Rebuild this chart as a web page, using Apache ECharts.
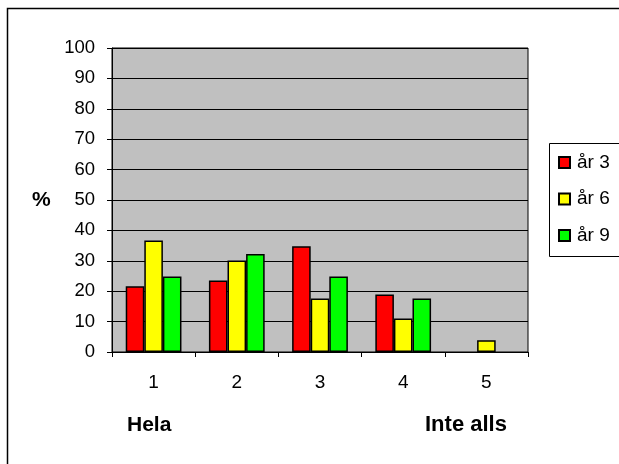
<!DOCTYPE html>
<html lang="sv">
<head>
  <meta charset="utf-8">
  <title>Diagram</title>
  <script src="https://cdn.jsdelivr.net/npm/echarts@6/dist/echarts.min.js"></script>
  <style>
    html, body { margin: 0; padding: 0; background: #fff; }
    #chart { width: 619px; height: 464px; }
  </style>
</head>
<body>
<div id="chart"></div>

<script>
// data
var kategorier = ['1', '2', '3', '4', '5'];
var ar3 = [21.6, 23.5, 34.8, 18.9, null];
var ar6 = [36.7, 30.1, 17.6, 11.0, 3.9];
var ar9 = [24.8, 32.2, 24.8, 17.6, null];
var serieNamn = ['år 3', 'år 6', 'år 9'];
var farger = ['#FF0000', '#FFFF00', '#00FF00'];

var font = 'Arial, "Liberation Sans", sans-serif';
var chart = echarts.init(document.getElementById('chart'));

function serie(namn, data, farg) {
  return {
    name: namn,
    type: 'bar',
    data: data,
    barGap: '0%',
    barCategoryGap: '33%',
    itemStyle: { color: farg, borderColor: '#000', borderWidth: 1.5 },
    animation: false
  };
}

var option = {
  animation: false,
  grid: {
    left: 112, right: 91, top: 48, bottom: 112,
    show: true,
    backgroundColor: '#C0C0C0',
    borderColor: '#000',
    borderWidth: 1
  },
  legend: {
    orient: 'vertical',
    left: 549, top: 143,
    padding: [10, 0, 11, 9],
    itemWidth: 11, itemHeight: 11,
    itemGap: 17.5,
    borderWidth: 0,
    icon: 'rect',
    textStyle: { fontFamily: font, fontSize: 19, color: '#000', lineHeight: 19, padding: [0, 0, 0, 2] },
    data: serieNamn
  },
  xAxis: {
    type: 'category',
    data: kategorier,
    axisLine: { lineStyle: { color: '#000', width: 1 } },
    axisTick: { show: true, length: 5, lineStyle: { color: '#000' } },
    axisLabel: { margin: 21, fontFamily: font, fontSize: 19, color: '#000' }
  },
  yAxis: {
    type: 'value',
    min: 0, max: 100, interval: 10,
    axisLine: { show: true, lineStyle: { color: '#000', width: 1 } },
    axisTick: { show: true, length: 5, lineStyle: { color: '#000' } },
    axisLabel: { margin: 17, fontFamily: font, fontSize: 18.5, color: '#000' },
    splitLine: { show: true, lineStyle: { color: '#000', width: 1 } }
  },
  graphic: [
    { type: 'polyline', shape: { points: [[7.5, 470], [7.5, 8.5], [630, 8.5]] },
      style: { stroke: '#000', lineWidth: 1.5, fill: null }, silent: true },
    // legend frame, running past the right edge as in the original
    { type: 'rect', shape: { x: 549.5, y: 143.5, width: 100, height: 113 },
      style: { stroke: '#000', lineWidth: 1, fill: null }, silent: true },
    { type: 'text', left: 32, top: 190,
      style: { text: '%', font: 'bold 21px ' + font, fill: '#000' } },
    { type: 'text', left: 127, top: 415,
      style: { text: 'Hela', font: 'bold 21px ' + font, fill: '#000' } },
    { type: 'text', left: 425, top: 414,
      style: { text: 'Inte alls', font: 'bold 22px ' + font, fill: '#000' } }
  ],
  series: [
    serie(serieNamn[0], ar3, farger[0]),
    serie(serieNamn[1], ar6, farger[1]),
    serie(serieNamn[2], ar9, farger[2])
  ]
};
chart.setOption(option);
</script>
</body>
</html>
